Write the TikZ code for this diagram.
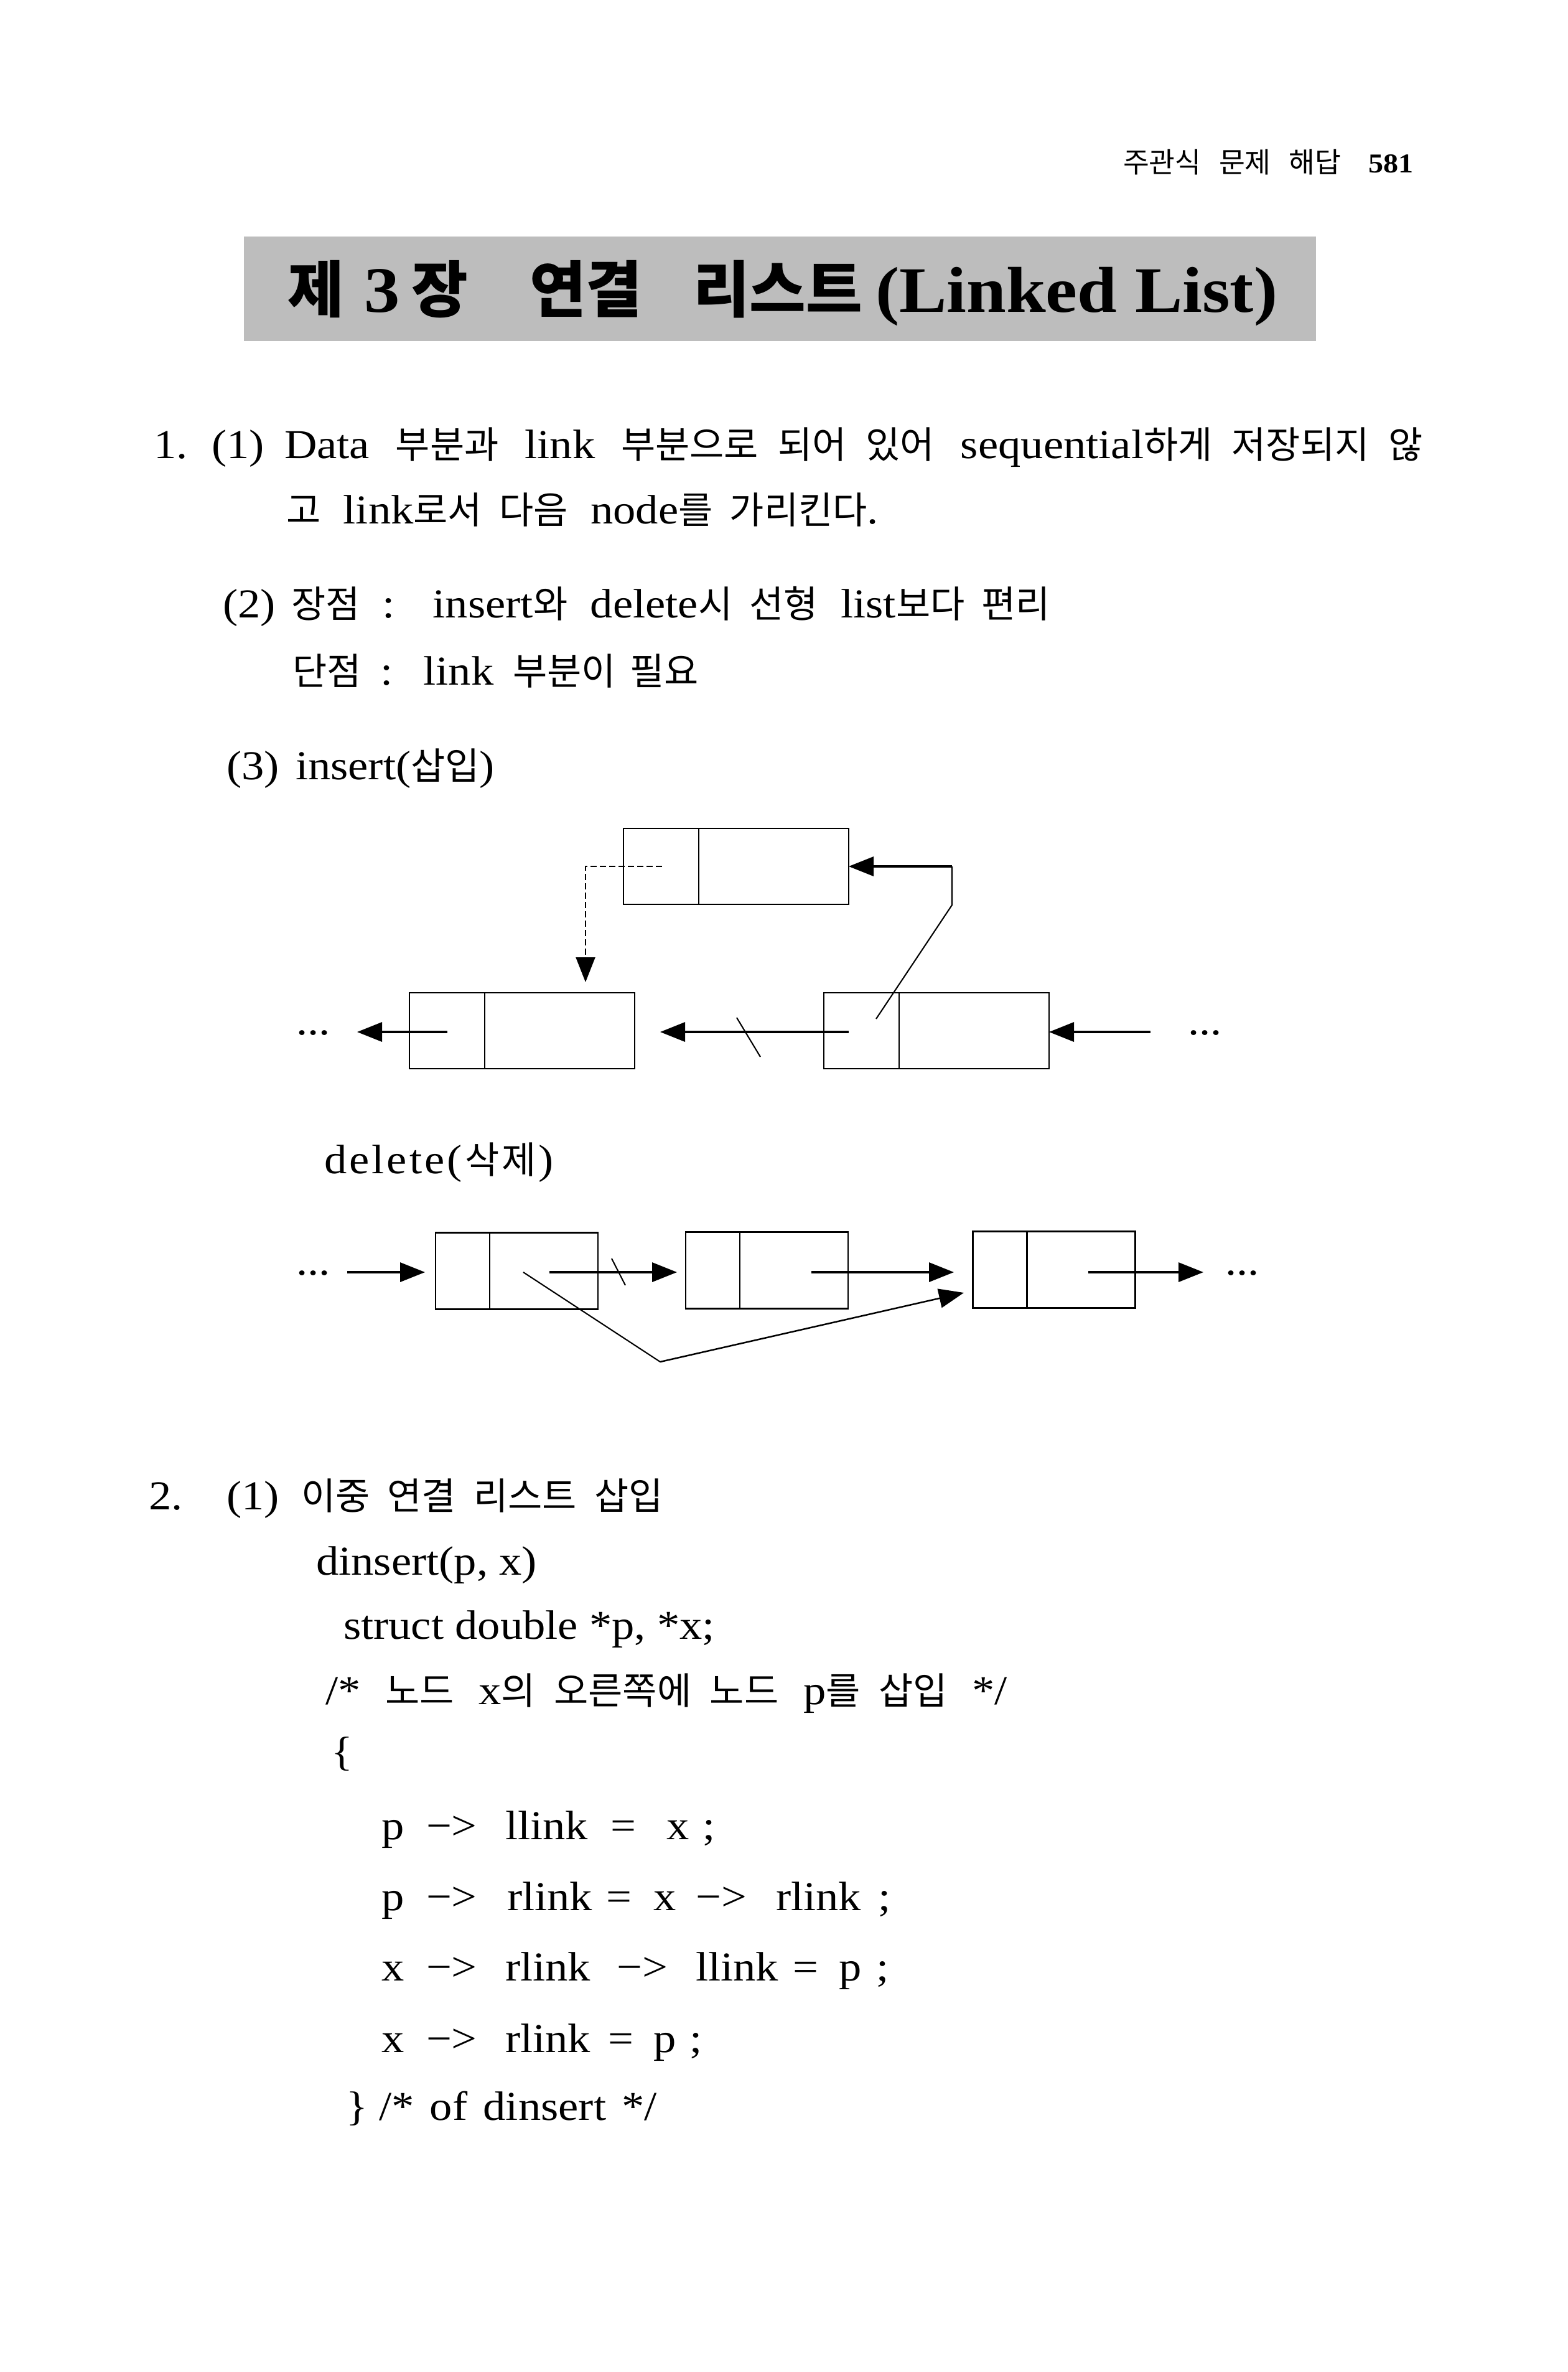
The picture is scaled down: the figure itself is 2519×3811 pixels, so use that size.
\documentclass[tikz,border=0pt]{standalone}
\usepackage{fontspec}
\setmainfont{Liberation Serif}[FakeStretch=1.1]
\newfontfamily\krfont{Noto Sans CJK KR}[Scale=0.91]
\usetikzlibrary{arrows.meta}
\newlength\pu \setlength\pu{0.24pt}
\newcommand\KR[1]{{\krfont #1}}
\newcommand\putat[2]{\makebox[0pt][l]{\hspace*{#1\pu}#2}}
\newcommand\TK[1]{{\fontsize{26pt}{30pt}\selectfont\krfont #1}}
\tikzset{
  txt/.style={anchor=base west, inner sep=0pt, outer sep=0pt},
  cell/.style={draw, line width=0.6pt, inner sep=0pt, outer sep=0pt},
  icell/.style={cell, minimum height=29.28pt},
  dcell/.style={cell, minimum height=29.52pt},
  arr/.style={line width=0.8pt, -{Triangle[length=9.6pt,width=7.44pt]}},
  thinline/.style={line width=0.5pt},
}
\begin{document}
\begin{tikzpicture}[x=0.24pt,y=-0.24pt,font=\fontsize{15.84pt}{19pt}\selectfont]
\fill[white] (0,0) rectangle (2519,3811);
\useasboundingbox (0,0) rectangle (2519,3811);

% header
\node[txt] (hd) at (1805,278) {\fontsize{12pt}{14pt}\selectfont\makebox[350\pu][s]{\KR{주관식 문제 해답}}};
\node[txt] (pg) at (2199,278) {\fontsize{10.5pt}{12pt}\selectfont\bfseries 581};

% title
\fill[black!26] (392,380) rectangle (2115,548);
\node[txt] (title) at (455,502) {\fontsize{25pt}{30pt}\selectfont\bfseries
  \putat{5}{\TK{제}}\putat{128}{3}\putat{204}{\TK{장}}\putat{394}{\TK{연결}}%
  \putat{657}{\TK{리스트}}\putat{950}{(Linked List)}};

% question 1
\node[txt] (n1) at (247,737) {1.};
\node[txt] (p1) at (340,737) {(1)};
\node[txt] (l1) at (457,737) {\makebox[1830\pu][s]{Data \KR{부분과} link \KR{부분으로 되어 있어} sequential\KR{하게 저장되지 않}}};
\node[txt] (l2) at (460,842) {\makebox[952\pu][s]{\KR{고} link\KR{로서 다음} node\KR{를 가리킨다}.}};
\node[txt] (p2) at (358,993) {(2)};
\node[txt] (l3) at (468,993) {\makebox[1220\pu][s]{\KR{장점} : insert\KR{와} delete\KR{시 선형} list\KR{보다 편리}}};
\node[txt] (l4) at (470,1100) {\makebox[653\pu][s]{\KR{단점} : link \KR{부분이 필요}}};
\node[txt] (p3) at (364,1252) {(3)};
\node[txt] (l5) at (475,1252) {insert(\KR{삽입})};

% insert diagram
\node[icell, minimum width=29.04pt] (tL) at (1062.5,1392) {};
\node[icell, minimum width=57.84pt, anchor=west] (tR) at (tL.east) {};
\node[icell, minimum width=29.04pt] (bL) at (718.5,1656) {};
\node[icell, minimum width=57.84pt, anchor=west] (bR) at (bL.east) {};
\node[icell, minimum width=29.04pt] (rL) at (1384.5,1656) {};
\node[icell, minimum width=57.84pt, anchor=west] (rR) at (rL.east) {};
\node[txt] (idl) at (476,1662) {...};
\node[txt] (idr) at (1909,1662) {...};
\coordinate (iaE) at (574,1658);
\draw[arr] (bL.center |- iaE) -- (iaE);
\coordinate (ibS) at (1364,1658);
\coordinate (ibE) at (1061,1658);
\draw[arr] (ibS) -- (ibE);
\coordinate (is1) at (1184,1635);
\coordinate (is2) at (1222,1698);
\draw[thinline] (is1) -- (is2);
\coordinate (icS) at (1849,1658);
\draw[arr] (icS) -- (rR.east |- icS);
\coordinate (idA) at (1408,1637);
\coordinate (idB) at (1530,1454);
\draw[thinline] (idA) -- (idB) -- (idB |- tR.east);
\draw[arr] (idB |- tR.east) -- (tR.east);
\coordinate (ieA) at (1064,1392);
\coordinate (ieB) at (941,1578);
\draw[arr, line width=0.5pt, dash pattern=on 2.4pt off 1.2pt] (ieA) -| (ieB);

% delete
\node[txt] (l6) at (521,1885) {\makebox[369\pu][s]{d\hfil e\hfil l\hfil e\hfil t\hfil e\hfil (\hfil\KR{삭}\hfil\KR{제}\hfil)}};
\node[dcell, minimum width=20.88pt] (aL) at (743.5,2042) {};
\node[dcell, minimum width=41.76pt, anchor=west] (aR) at (aL.east) {};
\node[dcell, minimum width=20.88pt] (cL) at (1145.5,2041) {};
\node[dcell, minimum width=41.76pt, anchor=west] (cR) at (cL.east) {};
\node[dcell, minimum width=20.88pt] (eL) at (1607,2040) {};
\node[dcell, minimum width=41.76pt, anchor=west] (eR) at (eL.east) {};
\node[txt] (ddl) at (476,2048) {...};
\node[txt] (ddr) at (1969,2048) {...};
\coordinate (d1S) at (558,2044);
\coordinate (d1E) at (683,2044);
\draw[arr] (d1S) -- (d1E);
\coordinate (d2S) at (883,2044);
\coordinate (d2E) at (1088,2044);
\draw[arr] (d2S) -- (d2E);
\coordinate (ds1) at (983,2022);
\coordinate (ds2) at (1005,2065);
\draw[thinline] (ds1) -- (ds2);
\coordinate (d3S) at (1304,2044);
\coordinate (d3E) at (1533,2044);
\draw[arr] (d3S) -- (d3E);
\coordinate (d4S) at (1749,2044);
\coordinate (d4E) at (1934,2044);
\draw[arr] (d4S) -- (d4E);
\coordinate (dvA) at (841,2044);
\coordinate (dvB) at (1061,2188);
\coordinate (dvC) at (1549,2077);
\draw[thinline] (dvA) -- (dvB);
\draw[arr, line width=0.6pt] (dvB) -- (dvC);

% question 2
\node[txt] (n2) at (239,2425) {2.};
\node[txt] (q1) at (364,2425) {(1)};
\node[txt] (m1) at (484,2425) {\makebox[582\pu][s]{\KR{이중 연결 리스트 삽입}}};
\node[txt] (m2) at (508,2530) {dinsert(p, x)};
\node[txt] (m3) at (552,2633) {struct double *p, *x;};
\node[txt] (m4) at (523,2738) {\makebox[1096\pu][s]{/* \KR{노드} x\KR{의 오른쪽에 노드} p\KR{를 삽입} */}};
\node[txt] (m5) at (532,2836) {\{};
\node[txt] (c1) at (611,2955) {\putat{0}{p}\putat{72}{−>}\putat{199}{llink}\putat{368}{=}\putat{458}{x}\putat{516}{;}};
\node[txt] (c2) at (611,3069) {\putat{0}{p}\putat{72}{−>}\putat{202}{rlink}\putat{361}{=}\putat{437}{x}\putat{505}{−>}\putat{634}{rlink}\putat{798}{;}};
\node[txt] (c3) at (611,3182) {\putat{0}{x}\putat{72}{−>}\putat{199}{rlink}\putat{378}{−>}\putat{505}{llink}\putat{661}{=}\putat{735}{p}\putat{795}{;}};
\node[txt] (c4) at (611,3297) {\putat{0}{x}\putat{72}{−>}\putat{199}{rlink}\putat{364}{=}\putat{437}{p}\putat{495}{;}};
\node[txt] (m6) at (556,3406) {\}};
\node[txt] (m7) at (609,3406) {\makebox[447\pu][s]{/* of dinsert */}};
\end{tikzpicture}
\end{document}
